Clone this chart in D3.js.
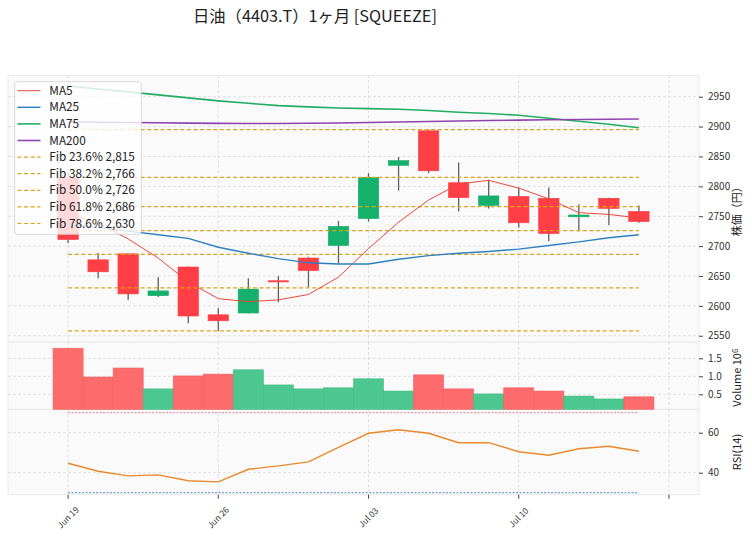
<!DOCTYPE html>
<html>
<head>
<meta charset="utf-8">
<script src="https://cdn.jsdelivr.net/npm/d3@7"></script>
<style>
  body { margin: 0; background: #fff; }
  svg { display: block; font-family: 'Noto Sans CJK JP', 'Noto Sans', sans-serif; }
</style>
</head>
<body>
<div id="chart"></div>
<script>
const chartWidth = 752
const chartHeight = 537

// 日付 (20 営業日)
const dates = [
  '06-19', '06-20', '06-21', '06-22', '06-23',
  '06-26', '06-27', '06-28', '06-29', '06-30',
  '07-03', '07-04', '07-05', '07-06', '07-07',
  '07-10', '07-11', '07-12', '07-13', '07-14',
]
const opens = [2815, 2677, 2687, 2617, 2665, 2585, 2588, 2642, 2680, 2701, 2746, 2835, 2893, 2806, 2768, 2783, 2780, 2749, 2780, 2758]
const highs = [2822, 2689, 2688, 2648, 2666, 2596, 2646, 2650, 2682, 2742, 2822, 2849, 2895, 2840, 2811, 2798, 2798, 2770, 2781, 2768]
const lows = [2705, 2646, 2610, 2615, 2571, 2558, 2587, 2606, 2631, 2671, 2741, 2793, 2822, 2758, 2763, 2731, 2708, 2725, 2735, 2739]
const closes = [2711, 2657, 2620, 2625, 2583, 2575, 2628, 2640, 2659, 2733, 2815, 2843, 2826, 2781, 2784, 2739, 2721, 2752, 2763, 2741]
// 出来高 (百万株)
const volumes = [1.78, 0.98, 1.23, 0.65, 1.01, 1.06, 1.18, 0.76, 0.65, 0.68, 0.93, 0.59, 1.04, 0.65, 0.51, 0.68, 0.59, 0.45, 0.37, 0.43]

const ma5 = [2755, 2738, 2712, 2680, 2640, 2612, 2607, 2610, 2619, 2648, 2696, 2740, 2777, 2804, 2810, 2797, 2779, 2756, 2753, 2747]
const ma25 = [2737, 2731, 2725, 2719, 2713, 2698, 2688, 2679, 2672, 2670, 2670, 2678, 2684, 2688, 2691, 2695, 2701, 2707, 2714, 2719]
const ma75 = [2968, 2963, 2958, 2953, 2948, 2943, 2939, 2935, 2933, 2931, 2930, 2929, 2927, 2924, 2922, 2919, 2914, 2909, 2904, 2898]
const ma200 = [2907.8, 2907.3, 2906.8, 2906.3, 2905.8, 2905.4, 2905.2, 2905.2, 2905.5, 2906, 2906.8, 2907.6, 2908.5, 2909.3, 2910.1, 2910.8, 2911.4, 2911.9, 2912.3, 2912.7]
const rsi = [44.7, 40.7, 38.4, 38.9, 36, 35.4, 41.7, 43.4, 45.4, 52.7, 59.7, 61.5, 59.7, 55, 55, 50.5, 48.7, 52, 53.2, 50.7]

// フィボナッチ (0% / 100% は凡例なし)
const fibLabels = ['Fib 23.6% 2,815', 'Fib 38.2% 2,766', 'Fib 50.0% 2,726', 'Fib 61.8% 2,686', 'Fib 78.6% 2,630']
const fibLevels = [2815, 2766, 2726, 2686, 2630]
const fibEnds = [2895, 2558]

const priceTicks = [2550, 2600, 2650, 2700, 2750, 2800, 2850, 2900, 2950]
const volumeTicks = [0.5, 1.0, 1.5]
const rsiTicks = [40, 60]
const xTickIdx = [0, 5, 10, 15, 20]
const xTickLabels = ['Jun 19', 'Jun 26', 'Jul 03', 'Jul 10', '']

const maLines = [
  { name: 'MA5', values: ma5, color: '#e8483b', width: 1 },
  { name: 'MA25', values: ma25, color: '#2e80c0', width: 1.4 },
  { name: 'MA75', values: ma75, color: '#23ad64', width: 1.6 },
  { name: 'MA200', values: ma200, color: '#8e44ad', width: 1.6 },
]

const upColor = '#15b06c'
const downColor = '#ff3e45'
const wickColor = '#606060'
const volUp = '#4dc790'
const volDown = '#fd6b6c'
const fibColor = '#d9a51c'
const gridColor = '#d6d6d6'

const left = 8
const right = 699
const panels = {
  price: [75.3, 342],
  volume: [342, 409.3],
  rsi: [409.3, 494.7],
}

const x = d3.scaleLinear().domain([-2, 21]).range([left, right])
const step = x(1) - x(0)
const yPrice = d3.scaleLinear().domain([2539.5, 2985.8]).range([panels.price[1], panels.price[0]])
const yVol = d3.scaleLinear().domain([0.083, 1.953]).range([panels.volume[1], panels.volume[0]])
const yRsi = d3.scaleLinear().domain([29, 71.7]).range([panels.rsi[1], panels.rsi[0]])

const svg = d3
  .select('#chart')
  .append('svg')
  .attr('width', chartWidth)
  .attr('height', chartHeight)

// タイトル
svg
  .append('text')
  .attr('x', 315)
  .attr('y', 22)
  .attr('text-anchor', 'middle')
  .style('font-size', '16.3px')
  .attr('fill', '#222')
  .text('日油（4403.T）1ヶ月 [SQUEEZE]')

// パネル背景とグリッド
Object.entries(panels).forEach(([key, [top, bottom]]) => {
  svg
    .append('rect')
    .attr('x', left)
    .attr('y', top)
    .attr('width', right - left)
    .attr('height', bottom - top)
    .attr('fill', '#fafafa')
    .attr('stroke', '#e6e6e6')
    .attr('stroke-width', 0.8)

  const g = svg.append('g').attr('class', 'grid')
  g.selectAll('line')
    .data(xTickIdx)
    .enter()
    .append('line')
    .attr('x1', d => x(d))
    .attr('x2', d => x(d))
    .attr('y1', top)
    .attr('y2', bottom)
    .attr('stroke', gridColor)
    .attr('stroke-width', 0.7)
    .attr('stroke-dasharray', '3,2')
})

function hGrid(scale, ticks) {
  svg
    .append('g')
    .selectAll('line')
    .data(ticks)
    .enter()
    .append('line')
    .attr('x1', left)
    .attr('x2', right)
    .attr('y1', d => scale(d))
    .attr('y2', d => scale(d))
    .attr('stroke', gridColor)
    .attr('stroke-width', 0.7)
    .attr('stroke-dasharray', '3,2')
}
hGrid(yPrice, priceTicks)
hGrid(yVol, volumeTicks)
hGrid(yRsi, rsiTicks)

// ローソク足
const candles = svg.append('g')
dates.forEach((d, i) => {
  const up = closes[i] >= opens[i]
  const color = up ? upColor : downColor
  candles
    .append('line')
    .attr('x1', x(i))
    .attr('x2', x(i))
    .attr('y1', yPrice(highs[i]))
    .attr('y2', yPrice(lows[i]))
    .attr('stroke', wickColor)
    .attr('stroke-width', 1.3)
  const top = yPrice(Math.max(opens[i], closes[i]))
  const h = Math.max(1.2, Math.abs(yPrice(opens[i]) - yPrice(closes[i])))
  candles
    .append('rect')
    .attr('x', x(i) - step * 0.34)
    .attr('y', top)
    .attr('width', step * 0.68)
    .attr('height', h)
    .attr('fill', color)
    .attr('stroke', color)
    .attr('stroke-width', 0.6)
})

// フィボナッチライン
const fibAll = fibEnds.concat(fibLevels)
svg
  .append('g')
  .selectAll('line')
  .data(fibAll)
  .enter()
  .append('line')
  .attr('x1', x(0))
  .attr('x2', x(dates.length - 1))
  .attr('y1', d => yPrice(d))
  .attr('y2', d => yPrice(d))
  .attr('stroke', fibColor)
  .attr('stroke-width', 1.2)
  .attr('stroke-dasharray', '4,2.6')

// 移動平均線
const priceLine = d3
  .line()
  .x((d, i) => x(i))
  .y(d => yPrice(d))
maLines.forEach(m => {
  svg
    .append('path')
    .attr('d', priceLine(m.values))
    .attr('fill', 'none')
    .attr('stroke', m.color)
    .attr('stroke-width', m.width)
})

// 出来高 (前日終値比で色分け)
const volIsUp = (d, i) => (i === 0 ? closes[i] >= opens[i] : closes[i] >= closes[i - 1])
svg
  .append('g')
  .selectAll('rect')
  .data(volumes)
  .enter()
  .append('rect')
  .attr('x', (d, i) => x(i) - step * 0.5)
  .attr('y', d => yVol(d))
  .attr('width', step)
  .attr('height', d => panels.volume[1] - yVol(d))
  .attr('fill', (d, i) => (volIsUp(d, i) ? volUp : volDown))
  .attr('stroke', (d, i) => (volIsUp(d, i) ? '#3fb882' : '#ee5f60'))
  .attr('stroke-width', 0.6)

// RSI
const rsiRef = [
  { v: 70, color: '#d9707a' },
  { v: 30, color: '#3b86c4' },
]
rsiRef.forEach(r => {
  svg
    .append('line')
    .attr('x1', x(0))
    .attr('x2', x(dates.length - 1))
    .attr('y1', yRsi(r.v))
    .attr('y2', yRsi(r.v))
    .attr('stroke', r.color)
    .attr('stroke-width', 0.9)
    .attr('stroke-dasharray', '2,1.5')
})
svg
  .append('path')
  .attr(
    'd',
    d3
      .line()
      .x((d, i) => x(i))
      .y(d => yRsi(d))(rsi)
  )
  .attr('fill', 'none')
  .attr('stroke', '#e8892c')
  .attr('stroke-width', 1.4)

// 右側 y 軸
function rightAxis(scale, ticks, fmt) {
  const g = svg
    .append('g')
    .attr('transform', `translate(${right},0)`)
    .call(d3.axisRight(scale).tickValues(ticks).tickSize(4).tickPadding(5).tickFormat(fmt))
  g.select('.domain').remove()
  g.selectAll('line').attr('stroke', '#444')
  g.selectAll('text').attr('fill', '#333').style('font-size', '10px').style('font-family', "'Noto Sans CJK JP', sans-serif")
}
rightAxis(yPrice, priceTicks, d3.format('d'))
rightAxis(yVol, volumeTicks, d3.format('.1f'))
rightAxis(yRsi, rsiTicks, d3.format('d'))

// x 軸
const xAxis = svg.append('g')
xAxis
  .selectAll('line')
  .data(xTickIdx)
  .enter()
  .append('line')
  .attr('x1', d => x(d))
  .attr('x2', d => x(d))
  .attr('y1', panels.rsi[1])
  .attr('y2', panels.rsi[1] + 4)
  .attr('stroke', '#444')
xAxis
  .selectAll('text')
  .data(xTickIdx)
  .enter()
  .append('text')
  .attr('transform', d => `translate(${x(d)},517.5) rotate(-45)`)
  .attr('text-anchor', 'middle')
  .attr('dy', '0.35em')
  .style('font-size', '8.5px')
  .attr('fill', '#333')
  .text((d, i) => xTickLabels[i])

// 軸ラベル
function yLabel(text, cy, sup) {
  const t = svg
    .append('text')
    .attr('transform', `translate(737,${cy}) rotate(-90)`)
    .attr('text-anchor', 'middle')
    .attr('dy', '0.35em')
    .style('font-size', '11px')
    .attr('fill', '#222')
  t.append('tspan').text(text)
  if (sup) {
    t.append('tspan').attr('dy', '-0.4em').style('font-size', '8px').text(sup)
  }
}
yLabel('株価（円）', (panels.price[0] + panels.price[1]) / 2)
yLabel('Volume  10', (panels.volume[0] + panels.volume[1]) / 2 + 2, '6')
yLabel('RSI(14)', (panels.rsi[0] + panels.rsi[1]) / 2)

// 凡例
const legendItems = maLines
  .map(m => ({ name: m.name, color: m.color, dash: null, width: m.width }))
  .concat(fibLabels.map(f => ({ name: f, color: fibColor, dash: '4,2.6', width: 1.2 })))
const legend = svg.append('g')
legend
  .append('rect')
  .attr('x', 14.7)
  .attr('y', 81.7)
  .attr('width', 126.6)
  .attr('height', 152.6)
  .attr('rx', 3)
  .attr('fill', '#fff')
  .attr('fill-opacity', 0.8)
  .attr('stroke', '#cfcfcf')
  .attr('stroke-width', 0.8)
legendItems.forEach((d, i) => {
  const cy = 90.7 + i * 16.6
  legend
    .append('line')
    .attr('x1', 17.5)
    .attr('x2', 40.5)
    .attr('y1', cy)
    .attr('y2', cy)
    .attr('stroke', d.color)
    .attr('stroke-width', d.width)
    .attr('stroke-dasharray', d.dash)
  legend
    .append('text')
    .attr('x', 49.3)
    .attr('y', cy)
    .attr('dy', '0.35em')
    .style('font-size', '11.8px')
    .attr('fill', '#222')
    .text(d.name)
})
</script>
</body>
</html>
